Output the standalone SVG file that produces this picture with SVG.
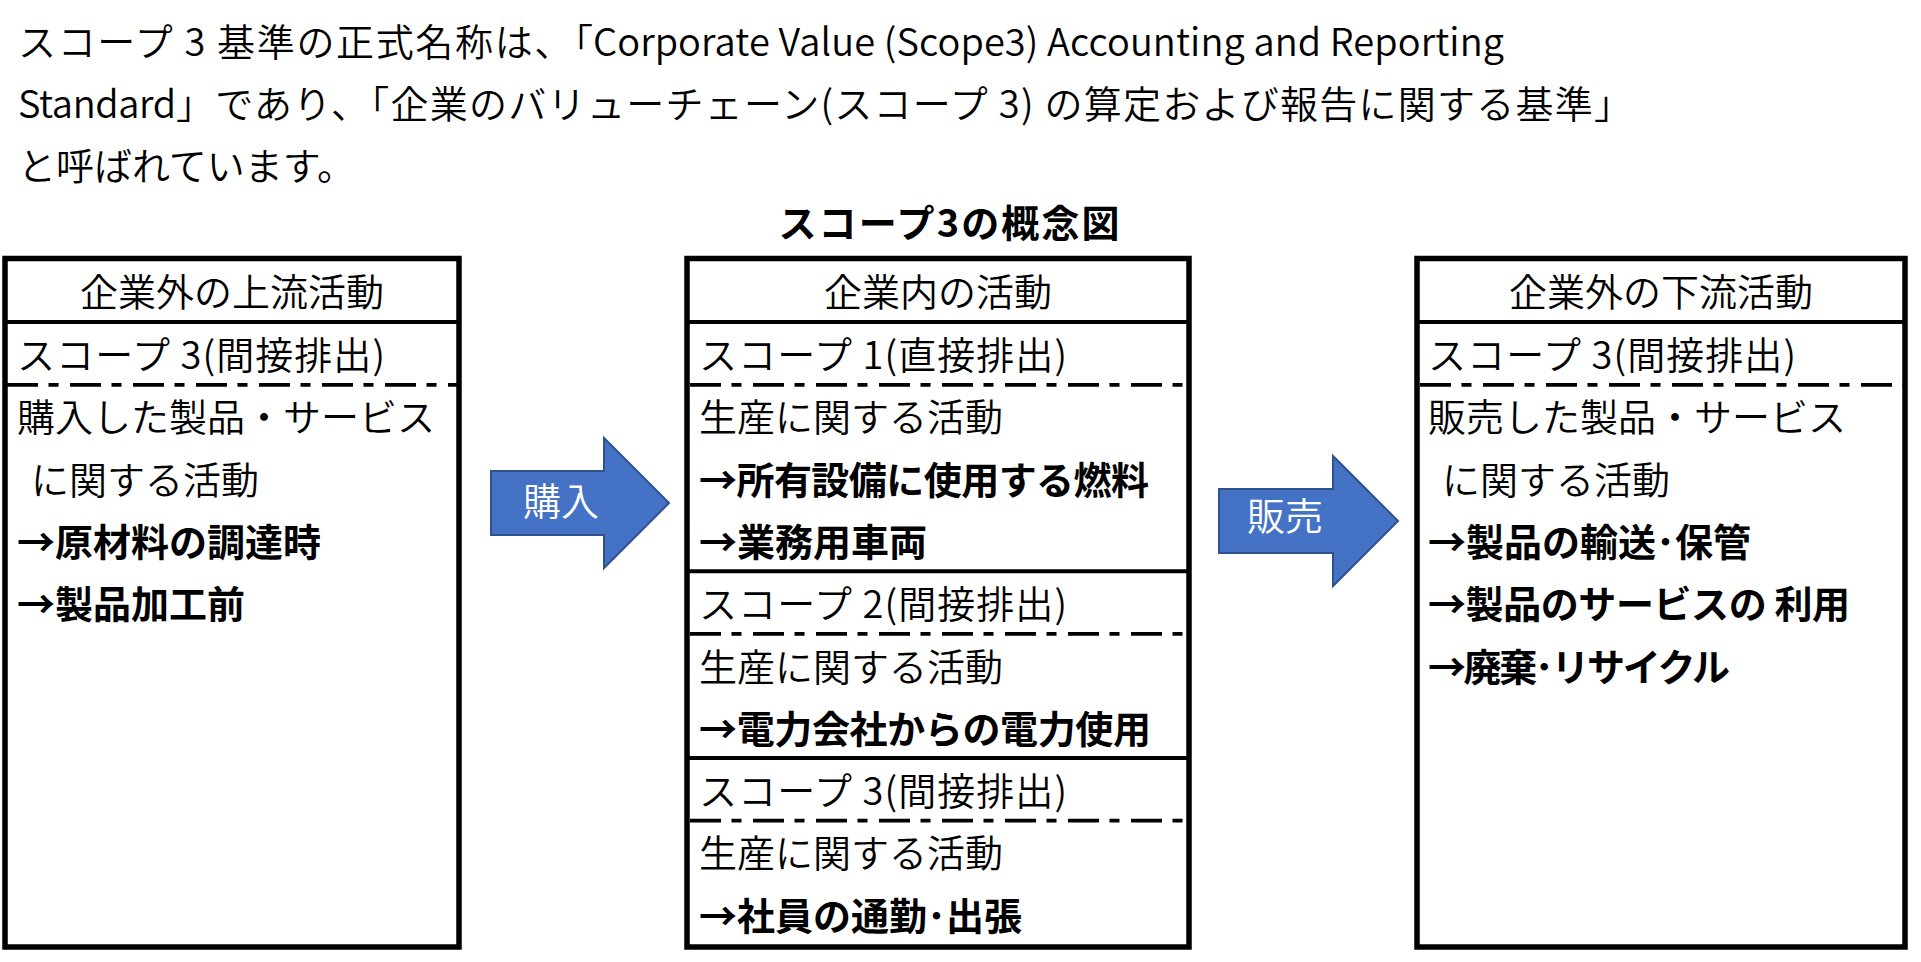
<svg xmlns="http://www.w3.org/2000/svg" width="1921" height="962" viewBox="0 0 1921 962">
<style>
text{font-family:"Noto Sans CJK JP","Noto Sans",sans-serif;font-size:38px;font-weight:350;fill:#000;}
.b{font-weight:700;}
.c{text-anchor:middle;}
.w{fill:#fff;}
.box{fill:#fff;stroke:#000;stroke-width:5.5;}
.sol{stroke:#000;stroke-width:4;fill:none;}
.dash{stroke:#000;stroke-width:3.8;fill:none;stroke-dasharray:31 10.5 10 11.5;}
.arr{fill:#4472C4;stroke:#2F528F;stroke-width:2;}
</style>
<rect width="1921" height="962" fill="#fff"/>
<g id="intro">
<text x="18" y="56" textLength="575">スコープ 3 基準の正式名称は、「</text>
<text x="593" y="56" textLength="911">Corporate Value (Scope3) Accounting and Reporting</text>
<text x="18" y="118" textLength="158">Standard</text>
<text x="176" y="118" textLength="1456">」であり、「企業のバリューチェーン(スコープ 3) の算定および報告に関する基準」</text>
<text x="18" y="180">と呼ばれています。</text>
<text class="b c" x="949" y="237" textLength="341">スコープ3の概念図</text>
</g>
<g id="upstream">
<rect class="box" x="5" y="258.5" width="454" height="688.5"/>
<line class="sol" x1="5" y1="322" x2="459" y2="322"/>
<line class="dash" x1="7" y1="384.8" x2="457" y2="384.8"/>
<text class="c" x="232" y="306">企業外の上流活動</text>
<text x="17" y="369" textLength="368">スコープ 3(間接排出)</text>
<text x="17" y="431">購入した製品・サービス</text>
<text x="31" y="494">に関する活動</text>
<text class="b" x="17" y="556">→原材料の調達時</text>
<text class="b" x="17" y="618">→製品加工前</text>
</g>
<g id="internal">
<rect class="box" x="687" y="258.5" width="502" height="688.5"/>
<line class="sol" x1="687" y1="322" x2="1189" y2="322"/>
<line class="dash" x1="690" y1="384.8" x2="1187" y2="384.8"/>
<line class="sol" x1="687" y1="571.2" x2="1189" y2="571.2"/>
<line class="dash" x1="690" y1="633.8" x2="1187" y2="633.8"/>
<line class="sol" x1="687" y1="758.1" x2="1189" y2="758.1"/>
<line class="dash" x1="690" y1="820.6" x2="1187" y2="820.6"/>
<text class="c" x="938" y="306">企業内の活動</text>
<text x="699" y="369" textLength="368">スコープ 1(直接排出)</text>
<text x="699" y="431">生産に関する活動</text>
<text class="b" x="699" y="494" textLength="450">→所有設備に使用する燃料</text>
<text class="b" x="699" y="556">→業務用車両</text>
<text x="699" y="618" textLength="368">スコープ 2(間接排出)</text>
<text x="699" y="681">生産に関する活動</text>
<text class="b" x="699" y="743" textLength="452">→電力会社からの電力使用</text>
<text x="699" y="805" textLength="368">スコープ 3(間接排出)</text>
<text x="699" y="867">生産に関する活動</text>
<text class="b" x="699" y="930">→社員の通勤･出張</text>
</g>
<g id="downstream">
<rect class="box" x="1417" y="258.5" width="488" height="688.5"/>
<line class="sol" x1="1417" y1="322" x2="1905" y2="322"/>
<line class="dash" x1="1420" y1="384.8" x2="1903" y2="384.8"/>
<text class="c" x="1661" y="306">企業外の下流活動</text>
<text x="1428" y="369" textLength="368">スコープ 3(間接排出)</text>
<text x="1428" y="431">販売した製品・サービス</text>
<text x="1442" y="494">に関する活動</text>
<text class="b" x="1428" y="556">→製品の輸送･保管</text>
<text class="b" x="1428" y="618" textLength="422">→製品のサービスの 利用</text>
<text class="b" x="1428" y="681" textLength="302">→廃棄･リサイクル</text>
</g>
<g id="connectors">
<g id="arrow-purchase">
<polygon class="arr" points="491,471 604,471 604,438 669,503 604,568 604,535 491,535"/>
<text class="w" x="523" y="515">購入</text>
</g>
<g id="arrow-sale">
<polygon class="arr" points="1219,489 1333,489 1333,456 1398,521 1333,586 1333,553 1219,553"/>
<text class="w" x="1247" y="530">販売</text>
</g>
</g>
</svg>
